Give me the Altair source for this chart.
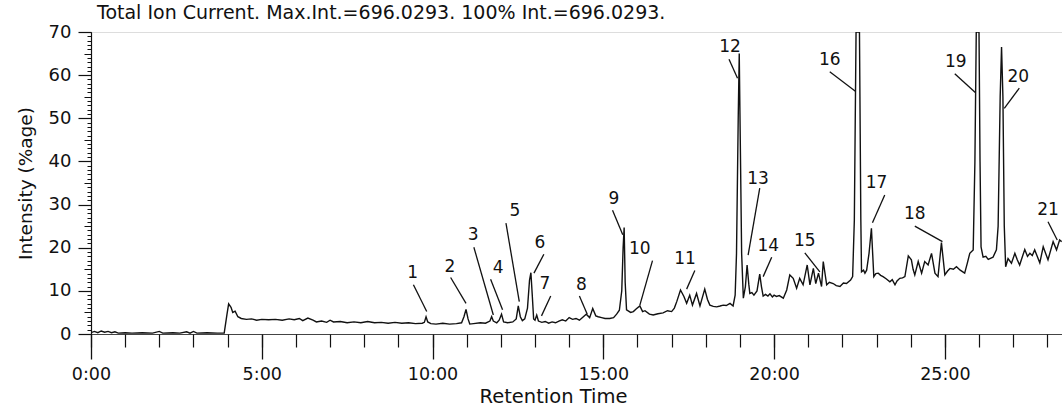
import altair as alt
import pandas as pd

TITLE = "Total Ion Current. Max.Int.=696.0293. 100% Int.=696.0293."
X_TITLE = "Retention Time"
Y_TITLE = "Intensity (%age)"

# retention time (min) and relative intensity (%)
time_min = [
    0.00, 0.10, 0.20, 0.30, 0.40, 0.50, 0.60, 0.70, 0.80, 1.00, 1.20, 1.50, 1.80, 2.00, 2.10, 2.40,
    2.60, 2.80, 2.90, 3.00, 3.10, 3.40, 3.70, 3.90,
    3.98, 4.03, 4.10, 4.15, 4.22, 4.30, 4.40, 4.55, 4.70, 4.85, 5.00, 5.20, 5.40, 5.60, 5.80, 5.95,
    6.10, 6.20, 6.35, 6.50, 6.60, 6.75, 6.90, 7.00, 7.10, 7.30, 7.50, 7.70, 7.90, 8.10, 8.30, 8.50,
    8.70, 8.90, 9.10, 9.30, 9.50, 9.70, 9.76, 9.81, 9.86, 9.95, 10.10, 10.30, 10.50, 10.70, 10.85,
    10.92, 10.98, 11.04, 11.09, 11.20, 11.40, 11.55, 11.68, 11.73, 11.78, 11.88, 11.95, 12.02, 12.08,
    12.20, 12.35, 12.45, 12.51, 12.57, 12.63, 12.70, 12.78, 12.84, 12.88, 12.92, 12.96, 13.00, 13.05,
    13.10, 13.20, 13.30, 13.40, 13.50, 13.60, 13.70, 13.80, 13.90, 14.00, 14.10, 14.20, 14.30, 14.40,
    14.50, 14.60, 14.69, 14.78, 14.85, 14.95, 15.05, 15.19, 15.30, 15.39, 15.47, 15.54, 15.58, 15.61,
    15.64, 15.68, 15.80, 15.88, 15.96, 16.07, 16.15, 16.22, 16.35, 16.46, 16.60, 16.75, 16.88, 17.00,
    17.08, 17.15, 17.26, 17.36, 17.44, 17.53, 17.61, 17.73, 17.83, 17.97, 18.05, 18.12, 18.22, 18.32,
    18.42, 18.51, 18.60, 18.71, 18.80, 18.86, 18.90, 18.95, 18.98, 19.01, 19.05, 19.10, 19.16, 19.21,
    19.26, 19.29, 19.35, 19.41, 19.50, 19.58, 19.63, 19.68, 19.75, 19.82, 19.88, 19.95, 20.00, 20.07,
    20.15, 20.27, 20.37, 20.46, 20.56, 20.66, 20.75, 20.85, 20.97, 21.05, 21.15, 21.22, 21.30, 21.39,
    21.44, 21.54, 21.62, 21.73, 21.82, 21.93, 22.03, 22.12, 22.24, 22.30, 22.35, 22.40, 22.50, 22.54,
    22.56, 22.62, 22.66, 22.71, 22.78, 22.85, 22.92, 22.98, 23.05, 23.12, 23.19, 23.28, 23.39, 23.46,
    23.54, 23.60, 23.68, 23.76, 23.83, 23.93, 24.02, 24.07, 24.12, 24.22, 24.32, 24.41, 24.51, 24.61,
    24.71, 24.80, 24.90, 25.00, 25.08, 25.15, 25.25, 25.34, 25.45, 25.58, 25.66, 25.73, 25.83, 25.88,
    25.92, 26.00, 26.03, 26.06, 26.12, 26.20, 26.27, 26.35, 26.41, 26.51, 26.56, 26.62, 26.66, 26.70,
    26.74, 26.78, 26.85, 26.95, 27.05, 27.12, 27.19, 27.34, 27.42, 27.49, 27.56, 27.63, 27.78, 27.88,
    28.02, 28.17, 28.27, 28.36, 28.42,
]
intensity = [
    0.3, 0.6, 0.3, 0.7, 0.4, 0.6, 0.3, 0.5, 0.2, 0.3, 0.2, 0.3, 0.2, 0.6, 0.2, 0.3,
    0.2, 0.5, 0.2, 0.6, 0.2, 0.3, 0.2, 0.2,
    4.5, 7.0, 6.2, 5.0, 5.3, 4.0, 3.6, 3.4, 3.5, 3.2, 3.4, 3.3, 3.4, 3.2, 3.5, 3.3,
    3.6, 3.1, 3.7, 3.2, 2.8, 3.0, 2.7, 3.2, 2.8, 2.9, 2.6, 2.8, 2.6, 2.9, 2.6, 2.7,
    2.5, 2.7, 2.5, 2.6, 2.4, 2.5, 2.7, 4.0, 2.8, 2.4, 2.3, 2.5, 2.3, 2.4, 2.6,
    4.0, 5.7, 3.5, 2.3, 2.4, 2.6, 2.5, 3.0, 4.0, 3.0, 2.6, 3.2, 4.6, 2.8,
    2.6, 2.8, 3.5, 6.5, 4.0, 3.1, 3.5, 6.0, 12.5, 14.2, 9.0, 3.5, 3.2, 4.4,
    3.0, 2.7, 2.9, 2.5, 2.8, 2.6, 3.0, 3.3, 3.0, 3.8, 3.4, 3.6, 3.2, 3.9,
    4.6, 3.8, 5.9, 4.2, 4.0, 3.8, 3.6, 3.6, 3.8, 4.6, 5.5, 10.0, 20.0, 24.7,
    12.0, 5.6, 5.0, 5.2, 5.8, 6.5, 5.2, 5.4, 4.6, 4.4, 4.7, 4.9, 5.4, 5.2,
    6.0, 7.5, 10.2, 8.7, 7.1, 9.0, 6.7, 9.4, 6.5, 10.4, 8.0, 6.7, 6.4, 6.3,
    6.5, 6.7, 6.6, 7.1, 6.5, 9.0, 18.7, 50.0, 65.0, 45.0, 18.7, 8.3, 11.0, 16.0,
    11.5, 9.4, 9.6, 9.0, 10.0, 13.9, 11.0, 8.8, 9.2, 8.8, 9.3, 8.6, 9.0, 8.7,
    8.9, 8.3, 10.2, 13.7, 12.9, 10.6, 12.9, 11.4, 16.0, 11.4, 15.2, 11.7, 14.1, 11.0,
    16.8, 11.4, 12.0, 11.7, 11.2, 11.0, 11.8, 11.7, 12.5, 13.3, 26.4, 70.0, 70.0, 26.4,
    14.4, 14.8, 14.1, 14.8, 18.7, 24.5, 13.3, 14.0, 14.1, 13.6, 13.3, 12.8, 12.1, 12.6,
    11.4, 12.3, 12.9, 13.0, 13.3, 18.1, 17.2, 15.0, 13.7, 16.8, 14.1, 16.8, 16.0, 18.7,
    14.1, 13.3, 21.2, 13.7, 14.6, 15.2, 15.0, 15.6, 14.8, 14.1, 16.5, 18.7, 19.5, 40.0,
    70.0, 70.0, 40.0, 20.2, 17.8, 18.0, 17.3, 17.6, 17.8, 19.5, 25.0, 55.0, 66.5, 55.0,
    25.0, 15.6, 17.5, 16.4, 18.7, 17.2, 16.0, 19.6, 18.0, 18.7, 18.2, 19.5, 16.5, 20.2,
    17.2, 21.4, 19.5, 21.8, 21.4,
]

# peak annotations: label position and leader line ends
peak_label = [str(i) for i in range(1, 22)]
label_t = [9.42, 10.51, 11.19, 11.92, 12.41, 13.14, 13.29, 14.36, 15.31, 16.07, 17.39,
           18.71, 19.53, 19.83, 20.90, 21.63, 23.00, 24.12, 25.32, 27.15, 28.02]
label_y = [14.1, 15.6, 22.9, 15.2, 28.4, 21.0, 11.7, 11.4, 31.2, 19.6, 17.3,
           66.6, 35.9, 20.4, 21.6, 63.5, 34.9, 27.8, 63.1, 59.6, 28.7]
lead_t1 = [9.44, 10.53, 11.21, 11.70, 12.15, 13.26, 13.46, 14.30, 15.27, 16.44, 17.68,
           18.68, 19.58, 19.93, 20.90, 21.63, 23.24, 24.12, 25.29, 27.18, 28.02]
lead_y1 = [11.4, 13.1, 20.1, 12.7, 25.7, 18.5, 8.8, 8.8, 28.7, 17.0, 14.7,
           63.7, 33.8, 17.8, 18.8, 60.8, 32.2, 25.0, 60.3, 57.0, 26.0]
lead_t2 = [9.83, 10.98, 11.78, 12.05, 12.54, 12.97, 13.19, 14.53, 15.57, 16.07, 17.44,
           18.93, 19.24, 19.68, 21.34, 22.39, 22.88, 24.93, 25.90, 26.74, 28.29]
lead_y2 = [5.2, 7.1, 4.4, 5.6, 7.5, 14.1, 4.2, 4.6, 23.0, 6.7, 10.4,
           59.3, 18.3, 13.3, 14.4, 56.2, 25.8, 21.4, 55.9, 52.3, 21.8]

major_x_ticks = [0, 5, 10, 15, 20, 25]
minor_x_ticks = list(range(0, 29))
major_y_ticks = [0, 10, 20, 30, 40, 50, 60, 70]
mid_y_ticks = [5, 15, 25, 35, 45, 55, 65]
minor_y_ticks = list(range(0, 71))

trace = pd.DataFrame({"t": time_min, "y": intensity})
ann = pd.DataFrame({
    "label": peak_label, "lt": label_t, "ly": label_y,
    "t1": lead_t1, "y1": lead_y1, "t2": lead_t2, "y2": lead_y2,
})

FONT = "DejaVu Sans"
xs = alt.Scale(domain=[0, 28.43], nice=False, zero=False)
ys = alt.Scale(domain=[0, 70], nice=False, zero=False)

main = alt.Chart(trace).mark_line(color="#111111", strokeWidth=1.4, clip=True).encode(
    x=alt.X("t:Q", scale=xs, axis=alt.Axis(
        orient="bottom", values=major_x_ticks, labelExpr="floor(datum.value) + ':00'",
        tickSize=25, tickWidth=1.3, tickColor="#111111", domainColor="#444444", domainWidth=1,
        labelFont=FONT, labelFontSize=17.5, labelColor="#111111", labelPadding=6,
        labelFlush=False, grid=False, title=X_TITLE, titleFont=FONT, titleFontSize=19.5,
        titleFontWeight="normal", titleColor="#111111", titleX=462, titleY=68,
        titleBaseline="alphabetic", titleAlign="center")),
    y=alt.Y("y:Q", scale=ys, axis=alt.Axis(
        orient="left", values=major_y_ticks, tickSize=13, tickWidth=1.2, tickColor="#111111",
        domainColor="#111111", domainWidth=1.2, labelFont=FONT, labelFontSize=18,
        labelColor="#111111", labelPadding=7, labelFlush=False, grid=False,
        title=Y_TITLE, titleFont=FONT, titleFontSize=18.5, titleFontWeight="normal",
        titleColor="#111111", titleAngle=-90, titleX=-60, titleY=151,
        titleAlign="center", titleBaseline="alphabetic")),
)

minor = alt.Chart(trace).mark_line(opacity=0).encode(
    x=alt.X("t:Q", scale=xs, axis=alt.Axis(
        orient="bottom", values=minor_x_ticks, tickSize=13, tickWidth=1.2, tickColor="#111111",
        labels=False, domain=False, grid=False, title=None)),
    y=alt.Y("y:Q", scale=ys, axis=alt.Axis(
        orient="left", values=minor_y_ticks, tickSize=4, tickWidth=1, tickColor="#111111",
        labels=False, domain=False, grid=False, title=None)),
)

mid = alt.Chart(trace).mark_line(opacity=0).encode(
    x=alt.X("t:Q", scale=xs, axis=None),
    y=alt.Y("y:Q", scale=ys, axis=alt.Axis(
        orient="left", values=mid_y_ticks, tickSize=7, tickWidth=1, tickColor="#111111",
        labels=False, domain=False, grid=False, title=None)),
)

leaders = alt.Chart(ann).mark_rule(color="#111111", strokeWidth=1.3).encode(
    x=alt.X("t1:Q", scale=xs, axis=None), y=alt.Y("y1:Q", scale=ys, axis=None),
    x2="t2:Q", y2="y2:Q",
)

labels = alt.Chart(ann).mark_text(font=FONT, fontSize=17, color="#111111",
                                  align="center", baseline="middle").encode(
    x=alt.X("lt:Q", scale=xs, axis=None), y=alt.Y("ly:Q", scale=ys, axis=None),
    text="label:N",
)

chart = alt.layer(main, minor, mid, leaders, labels).resolve_axis(
    x="independent", y="independent"
).properties(
    width=971, height=302,
    autosize=alt.AutoSizeParams(type="none"),
    padding={"left": 91, "top": 32, "right": 0, "bottom": 83},
    title=alt.TitleParams(TITLE, anchor="start", frame="group", dx=6, dy=18, offset=3,
                          font=FONT, fontSize=19, fontWeight="normal", color="#111111",
                          baseline="alphabetic"),
).configure_view(stroke=None).configure(background="white")

chart.save("out.html", embed_options={"renderer": "svg", "actions": False})
